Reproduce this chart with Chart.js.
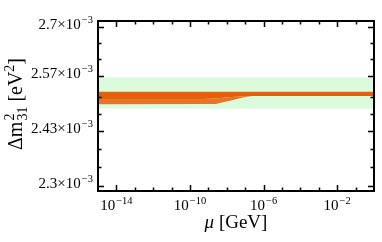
<!DOCTYPE html>
<html>
<head>
<meta charset="utf-8">
<script src="https://cdn.jsdelivr.net/npm/chart.js@4/dist/chart.umd.min.js"></script>
<style>
  body { margin: 0; background: #fff; }
  #wrap { width: 382px; height: 242px; }
</style>
</head>
<body>
<div id="wrap"><canvas id="chart" width="382" height="242"></canvas></div>
<script>
const muPoints = [1e-15, 5e-10, 2.5e-9, 6.3e-9, 2e-8, 5e-8, 1.26e-7, 2.5e-7, 1];
// Delta m^2_31 in units of 1e-3 eV^2
const upperEdge = [2.529, 2.529, 2.529, 2.529, 2.529, 2.529, 2.529, 2.529, 2.529];
const denseEdge = [2.511, 2.511, 2.512, 2.514, 2.516, 2.517, 2.518, 2.5187, 2.5187];
const lowerEdge = [2.4975, 2.4985, 2.498, 2.5025, 2.508, 2.513, 2.5165, 2.5187, 2.5187];

// 3 sigma band
const bandMu = [1e-15, 1];
const bandHigh = [2.566, 2.566];
const bandLow = [2.486, 2.486];

const yMin = 2.2884, yMax = 2.7163;
const yMajor = [2.3, 2.43, 2.57, 2.7];
const yMinor = [2.3433, 2.3867, 2.4733, 2.5167, 2.6133, 2.6567];
const xMajorExp = [-14, -10, -6, -2];
const xMinorExp = [-13, -12, -11, -9, -8, -7, -5, -4, -3, -1];

const FONT = '"Liberation Serif", "Times New Roman", serif';
const orange = "#e6600c";

function pts(xs, ys) {
  return xs.map((x, i) => ({ x: x, y: ys[i] }));
}

function drawPow(ctx, base, exp, x, y, size, align) {
  ctx.font = `${size}px ${FONT}`;
  const wb = ctx.measureText(base).width;
  const es = size * 0.7;
  ctx.font = `${es}px ${FONT}`;
  const we = ctx.measureText(exp).width;
  let x0 = x;
  if (align === "right") x0 = x - wb - we - 1;
  if (align === "center") x0 = x - (wb + we + 1) / 2;
  ctx.font = `${size}px ${FONT}`;
  ctx.fillText(base, x0, y);
  ctx.font = `${es}px ${FONT}`;
  ctx.fillText(exp, x0 + wb + 1, y - size * 0.42);
}

const framePlugin = {
  id: "frame",
  afterDatasetsDraw(chart) {
    const { ctx, chartArea: a, scales: { x, y } } = chart;
    ctx.save();
    ctx.strokeStyle = "#000";
    ctx.fillStyle = "#000";
    ctx.lineWidth = 1.5;

    function yTick(v, len) {
      const py = Math.round(y.getPixelForValue(v)) + 0.5;
      ctx.beginPath();
      ctx.moveTo(a.left, py); ctx.lineTo(a.left + len, py);
      ctx.moveTo(a.right, py); ctx.lineTo(a.right - len, py);
      ctx.stroke();
    }
    function xTick(e, len) {
      const px = Math.round(x.getPixelForValue(Math.pow(10, e))) + 0.5;
      ctx.beginPath();
      ctx.moveTo(px, a.bottom); ctx.lineTo(px, a.bottom - len);
      ctx.moveTo(px, a.top); ctx.lineTo(px, a.top + len);
      ctx.stroke();
    }
    yMajor.forEach(v => yTick(v, 6));
    yMinor.forEach(v => yTick(v, 3.5));
    xMajorExp.forEach(e => xTick(e, 6));
    xMinorExp.forEach(e => xTick(e, 3.5));

    ctx.lineWidth = 2;
    ctx.strokeRect(a.left, a.top, a.right - a.left, a.bottom - a.top);

    // tick labels
    ctx.textBaseline = "alphabetic";
    ctx.textAlign = "left";
    yMajor.forEach(v => {
      const py = y.getPixelForValue(v);
      drawPow(ctx, v + "\u00d710", "\u22123", a.left - 5, py + 2, 15, "right");
    });
    xMajorExp.forEach(e => {
      const px = x.getPixelForValue(Math.pow(10, e));
      drawPow(ctx, "10", "\u2212" + Math.abs(e), px, 210, 15, "center");
    });

    // x title, centred on the frame
    ctx.font = `italic 19px ${FONT}`;
    const wm = ctx.measureText("\u03bc").width;
    ctx.font = `19px ${FONT}`;
    const wg = ctx.measureText(" [GeV]").width;
    const xs = (a.left + a.right) / 2 - (wm + wg) / 2;
    ctx.font = `italic 19px ${FONT}`;
    ctx.fillText("\u03bc", xs, 228);
    ctx.font = `19px ${FONT}`;
    ctx.fillText(" [GeV]", xs + wm, 228);

    // y title, rotated
    const big = `20px ${FONT}`, small = `14px ${FONT}`;
    ctx.translate(22, 104);
    ctx.rotate(-Math.PI / 2);
    ctx.font = big;
    const p1 = "\u0394m";
    const w1 = ctx.measureText(p1).width;
    ctx.font = small;
    const w2 = Math.max(ctx.measureText("2").width, ctx.measureText("31").width) + 1;
    const w4 = ctx.measureText("2").width;
    ctx.font = big;
    const p3 = " [eV";
    const w3 = ctx.measureText(p3).width;
    const w5 = ctx.measureText("]").width;
    let cx = -(w1 + w2 + w3 + w4 + w5) / 2;
    ctx.fillText(p1, cx, 0); cx += w1;
    ctx.font = small;
    ctx.fillText("2", cx + 1, -8);
    ctx.fillText("31", cx + 1, 4.5);
    cx += w2;
    ctx.font = big;
    ctx.fillText(p3, cx, 0); cx += w3;
    ctx.font = small;
    ctx.fillText("2", cx, -8); cx += w4;
    ctx.font = big;
    ctx.fillText("]", cx, 0);

    ctx.restore();
  }
};

const line = { type: "line", pointRadius: 0, borderWidth: 0, borderColor: "transparent", tension: 0 };

new Chart(document.getElementById("chart"), {
  type: "line",
  data: {
    datasets: [
      { ...line, data: pts(muPoints, upperEdge), fill: 1, backgroundColor: orange },
      { ...line, data: pts(muPoints, denseEdge), fill: 2, backgroundColor: "rgba(230,96,12,0.86)" },
      { ...line, data: pts(muPoints, lowerEdge), fill: false },
      { ...line, data: pts(bandMu, bandHigh), fill: 4, backgroundColor: "#dcfbdc" },
      { ...line, data: pts(bandMu, bandLow), fill: false }
    ]
  },
  options: {
    responsive: false,
    animation: false,
    layout: { padding: { left: 98, top: 21, right: 8, bottom: 51 } },
    plugins: { legend: { display: false }, tooltip: { enabled: false } },
    scales: {
      x: { type: "logarithmic", display: false, min: 1e-15, max: 1, bounds: "data" },
      y: { type: "logarithmic", display: false, min: yMin, max: yMax, bounds: "data" }
    }
  },
  plugins: [framePlugin]
});
</script>
</body>
</html>
